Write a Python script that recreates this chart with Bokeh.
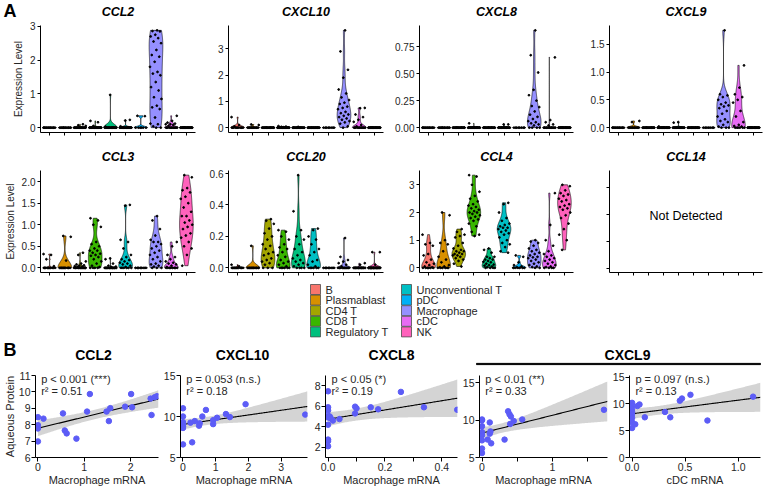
import numpy as np
from bokeh.plotting import figure
from bokeh.layouts import row, column
from bokeh.models import Range1d, FixedTicker, Label, NumeralTickFormatter
from bokeh.core.properties import value
from bokeh.embed import file_html
from bokeh.resources import INLINE

FONT = "Liberation Sans"

# ---------------- data: panel A (violins) ----------------
CELL_TYPES = ["B", "Plasmablast", "CD4 T", "CD8 T", "Regulatory T",
              "Unconventional T", "pDC", "Macrophage", "cDC", "NK"]
CELL_COLORS = ["#F8766D", "#D89000", "#A3A500", "#39B600", "#00BF7D",
               "#00BFC4", "#00B0F6", "#9590FF", "#E76BF3", "#FF62BC"]

GENES_ROW1 = ["CCL2", "CXCL10", "CXCL8", "CXCL9"]
GENES_ROW2 = ["CCL3", "CCL20", "CCL4", "CCL14"]

# non-zero expression values per cell type, and number of zero cells per type
CCL2_vals = [[], [], [0.1, 0.07, 0.05], [0.2, 0.16, 0.05], [0.97, 0.03], [0.23, 0.21, 0.04],
             [0.35, 0.34],
             [2.88, 2.86, 2.85, 2.75, 2.7, 2.65, 2.55, 2.5, 2.3, 2.15, 2.1, 1.95, 1.8, 1.65, 1.6,
              1.55, 1.35, 1.2, 1.1, 0.9, 0.85, 0.65, 0.6, 0.55, 0.3, 0.12, 0.1, 0.04],
             [0.35, 0.2, 0.15, 0.12, 0.1, 0.1, 0.08, 0.05], []]
CCL2_zeros = [14, 14, 22, 27, 22, 24, 6, 2, 12, 30]

CXCL10_vals = [[0.4, 0.1, 0.05], [0.12, 0.1], [], [0.06, 0.04, 0.03], [0.03], [], [],
               [3.7, 2.9, 2.2, 1.9, 1.45, 1.3, 1.15, 1.05, 0.95, 0.9, 0.8, 0.75, 0.7, 0.6, 0.55,
                0.5, 0.45, 0.4, 0.35, 0.3, 0.25, 0.2, 0.15, 0.05],
               [0.75, 0.74, 0.5, 0.4, 0.3, 0.22, 0.1, 0.05], []]
CXCL10_zeros = [11, 12, 24, 27, 23, 26, 8, 1, 12, 30]

CXCL8_vals = [[], [], [], [0.04], [], [0.03, 0.03], [],
              [0.9, 0.67, 0.51, 0.35, 0.3, 0.25, 0.2, 0.19, 0.15, 0.12, 0.1, 0.08, 0.06, 0.05,
               0.04, 0.03, 0.02],
              [0.65, 0.07, 0.05, 0.03, 0.02], []]
CXCL8_zeros = [14, 14, 24, 29, 24, 24, 8, 4, 15, 30]

CXCL9_vals = [[], [0.1, 0.12], [], [0.02], [0.1, 0.09], [], [],
              [1.75, 0.6, 0.58, 0.55, 0.5, 0.45, 0.42, 0.4, 0.38, 0.35, 0.3, 0.25, 0.2, 0.15,
               0.12, 0.1, 0.05, 0.02],
              [1.12, 0.72, 0.6, 0.55, 0.5, 0.45, 0.3, 0.2, 0.1, 0.05, 0.03, 0.02], []]
CXCL9_zeros = [14, 12, 24, 29, 22, 26, 8, 3, 6, 30]

CCL3_vals = [[0.32, 0.3, 0.2, 0.04], [0.74, 0.72, 0.17],
             [0.35, 0.3, 0.15, 0.1, 0.08, 0.06, 0.05, 0.04, 0.03, 0.02],
             [1.15, 1.1, 1.0, 0.95, 0.6, 0.55, 0.5, 0.45, 0.4, 0.4, 0.35, 0.33, 0.3, 0.28, 0.25,
              0.2, 0.15, 0.1, 0.05, 0.02],
             [0.22, 0.2, 0.1, 0.05, 0.03, 0.02],
             [1.46, 1.44, 0.65, 0.6, 0.45, 0.3, 0.25, 0.2, 0.18, 0.15, 0.12, 0.1, 0.08, 0.05, 0.02],
             [],
             [1.2, 1.1, 0.9, 0.75, 0.65, 0.6, 0.6, 0.55, 0.5, 0.45, 0.4, 0.35, 0.3, 0.25, 0.2,
              0.15, 0.1, 0.08, 0.05, 0.03],
             [0.6, 0.5, 0.3, 0.25, 0.2, 0.15, 0.12, 0.1, 0.08, 0.05, 0.02],
             [2.15, 2.1, 1.85, 1.8, 1.75, 1.65, 1.6, 1.5, 1.4, 1.3, 1.2, 1.2, 1.1, 1.05, 1.0,
              0.95, 0.9, 0.8, 0.75, 0.7, 0.6, 0.5, 0.45, 0.3, 0.05]]
CCL3_zeros = [10, 11, 14, 4, 18, 6, 8, 3, 8, 0]

CCL20_vals = [[0.02, 0.01], [0.14],
              [0.31, 0.3, 0.28, 0.25, 0.22, 0.2, 0.18, 0.15, 0.14, 0.12, 0.1, 0.09, 0.08, 0.06,
               0.05, 0.04, 0.03, 0.02],
              [0.24, 0.23, 0.2, 0.18, 0.15, 0.13, 0.12, 0.1, 0.08, 0.07, 0.05, 0.04, 0.03, 0.02, 0.01],
              [0.59, 0.36, 0.24, 0.2, 0.18, 0.15, 0.12, 0.1, 0.08, 0.06, 0.05, 0.04, 0.03, 0.02, 0.01],
              [0.25, 0.24, 0.2, 0.18, 0.15, 0.12, 0.1, 0.08, 0.05, 0.04, 0.02, 0.01],
              [],
              [0.19, 0.07, 0.05, 0.04, 0.03, 0.02, 0.01],
              [0.03, 0.02], [0.1, 0.1, 0.02]]
CCL20_zeros = [12, 13, 3, 6, 4, 6, 8, 12, 18, 27]

CCL4_vals = [[1.2, 0.9, 0.85, 0.8, 0.5, 0.45, 0.3, 0.2, 0.15, 0.1, 0.05, 0.02],
             [2.0, 1.9, 1.0, 0.9, 0.85, 0.6, 0.4, 0.3, 0.2, 0.1, 0.05, 0.02],
             [1.4, 1.3, 1.2, 1.15, 1.1, 0.9, 0.8, 0.7, 0.65, 0.6, 0.6, 0.55, 0.5, 0.5, 0.45,
              0.45, 0.4, 0.35, 0.3, 0.25, 0.15, 0.05],
             [3.35, 3.3, 3.0, 2.75, 2.6, 2.5, 2.4, 2.3, 2.25, 2.2, 2.15, 2.1, 2.05, 2.0, 2.0,
              1.95, 1.9, 1.85, 1.8, 1.75, 1.7, 1.6, 1.5, 1.3, 1.2, 1.15],
             [0.7, 0.65, 0.55, 0.4, 0.4, 0.35, 0.3, 0.3, 0.25, 0.22, 0.2, 0.15, 0.12, 0.1, 0.08,
              0.05, 0.03],
             [2.35, 2.3, 2.0, 1.8, 1.7, 1.6, 1.55, 1.5, 1.45, 1.45, 1.4, 1.35, 1.3, 1.25, 1.2,
              1.1, 1.0, 0.9, 0.85, 0.75, 0.6, 0.55],
             [0.45, 0.4, 0.2, 0.1, 0.05, 0.02],
             [1.0, 0.95, 0.9, 0.8, 0.7, 0.65, 0.6, 0.55, 0.5, 0.45, 0.4, 0.38, 0.35, 0.3, 0.25,
              0.2, 0.15, 0.1, 0.05, 0.03],
             [2.7, 1.55, 1.0, 0.8, 0.6, 0.5, 0.45, 0.4, 0.35, 0.3, 0.25, 0.2, 0.15, 0.1, 0.05, 0.03],
             [3.0, 2.95, 2.8, 2.7, 2.65, 2.6, 2.5, 2.45, 2.4, 2.3, 2.25, 2.2, 2.15, 2.1, 2.0,
              1.9, 1.8, 1.6, 1.4, 1.2, 1.0, 0.65]]
CCL4_zeros = [6, 6, 0, 0, 4, 0, 6, 2, 4, 0]

CCL2_yticks = [0, 1, 2, 3]
CXCL10_yticks = [0, 1, 2, 3]
CXCL8_yticks = [0, 0.25, 0.5, 0.75]
CXCL9_yticks = [0, 0.5, 1.0, 1.5]
CCL3_yticks = [0, 0.5, 1.0, 1.5, 2.0]
CCL20_yticks = [0, 0.2, 0.4, 0.6]
CCL4_yticks = [0, 1, 2, 3]
CCL14_yticks = [0, 1, 2, 3]

# ---------------- data: panel B (correlations) ----------------
CCL2_mac_x = [0, 0, 0, 0, 0.12, 0.54, 0.58, 0.62, 0.83, 1.06, 1.12, 1.48, 1.53, 1.56, 1.88,
              2.01, 2.03, 2.43, 2.45, 2.52, 2.57]
CCL2_prot = [8.46, 7.97, 7.77, 6.98, 8.37, 8.69, 7.65, 7.47, 7.15, 8.80, 9.87, 8.80, 8.22, 9.01,
             9.10, 9.87, 9.06, 9.59, 8.59, 9.68, 9.74]

CXCL10_mac_x = [0, 0, 0, 0, 0, 0, 0, 0.23, 0.28, 0.36, 0.49, 0.51, 0.59, 0.70, 0.92, 0.92, 1.04,
                1.31, 1.43, 1.91, 3.73]
CXCL10_prot = [11.0, 10.0, 9.3, 9.0, 8.8, 8.6, 6.6, 9.25, 6.85, 9.44, 8.88, 9.17, 10.0, 10.8,
               9.55, 9.07, 9.85, 10.3, 9.93, 11.5, 10.23]

CXCL8_mac_x = [0, 0, 0, 0, 0, 0, 0, 0, 0, 0.006, 0.01, 0.017, 0.04, 0.095, 0.10, 0.095, 0.15,
               0.176, 0.256, 0.337, 0.454]
CXCL8_prot = [7.46, 5.9, 5.6, 5.06, 4.9, 4.2, 2.75, 2.6, 2.1, 5.0, 4.8, 4.6, 4.75, 5.96, 5.8,
              5.3, 5.9, 5.7, 7.4, 5.9, 5.66]

CXCL9_mac_x = [0, 0, 0, 0, 0, 0, 0, 0, 0.08, 0.11, 0.11, 0.12, 0.13, 0.32, 0.37, 0.39, 0.41,
               0.40, 0.45, 0.57, 1.73]
CXCL9_prot_m = [10.0, 10.1, 9.2, 8.4, 8.0, 7.3, 6.2, 5.6, 7.4, 9.7, 8.2, 8.5, 6.9, 7.4, 11.2,
                10.8, 10.5, 9.5, 9.9, 10.1, 11.4]

CXCL9_cdc_x = [0, 0, 0, 0, 0, 0, 0, 0, 0.03, 0.05, 0.07, 0.12, 0.31, 0.36, 0.45, 0.47, 0.55,
               0.71, 1.14]
CXCL9_prot_c = [10.2, 9.7, 9.1, 8.5, 8.1, 7.4, 6.6, 5.5, 6.2, 9.6, 9.9, 7.5, 8.5, 7.5, 10.6,
                11.0, 11.7, 6.9, 11.35]

B_TITLES = ["CCL2", "CXCL10", "CXCL8"]
B_GROUP_TITLE = "CXCL9"
STATS_P = ["p < 0.001 (***)", "p = 0.053 (n.s.)", "p < 0.05 (*)", "p < 0.01 (**)", "p = 0.097 (n.s.)"]
STATS_R = ["r\u00b2 = 0.51", "r\u00b2 = 0.18", "r\u00b2 = 0.19", "r\u00b2 = 0.33", "r\u00b2 = 0.13"]

# ---------------- layout constants (pixels) ----------------
W = 764
TXT = "#262626"
V_FRAMES = [(40, 195), (228, 383), (419, 573), (609, 762)]   # violin plot areas, x
S_FRAMES = [(28, 158), (177, 307), (325, 457), (476, 607), (627, 760)]  # scatter plot areas, x
FIG_R = 2


def fig_geometry(frames):
    """start, left border, width for figures laid side by side."""
    out = []
    start = 0
    for k, (a, b) in enumerate(frames):
        right = FIG_R if k < len(frames) - 1 else W - b
        out.append((start, a - start, b - a, right))
        start = b + right
    return out


V_GEOM = fig_geometry(V_FRAMES)
S_GEOM = fig_geometry(S_FRAMES)


def strip(height):
    p = figure(width=W, height=height, output_backend="svg", toolbar_location=None,
               x_range=Range1d(0, W), y_range=Range1d(height, 0), min_border=0,
               x_axis_location=None, y_axis_location=None)
    p.grid.visible = False
    p.outline_line_color = None
    return p


def style_axis(ax, size="10px"):
    ax.axis_line_color = "black"
    ax.axis_line_width = 1
    ax.major_tick_line_color = "black"
    ax.minor_tick_line_color = "black"
    ax.major_tick_in = 0
    ax.major_tick_out = 3
    ax.minor_tick_in = 0
    ax.minor_tick_out = 3
    ax.major_label_text_font = FONT
    ax.major_label_text_font_size = size
    ax.major_label_text_color = TXT
    ax.major_label_standoff = 2
    ax.major_label_text_line_height = 1.0
    ax.axis_label_text_font = FONT
    ax.axis_label_text_font_style = "normal"
    ax.axis_label_text_color = TXT
    ax.axis_label_standoff = 3
    ax.axis_label_text_line_height = 1.0


def kde_shape(v):
    v = np.asarray(v, float)
    n = len(v)
    sd = v.std(ddof=1)
    q75, q25 = np.percentile(v, [75, 25])
    lo = min(sd, (q75 - q25) / 1.34)
    if lo <= 0:
        lo = sd if sd > 0 else 1.0
    bw = 0.9 * lo * n ** -0.2
    grid = np.linspace(v.min(), v.max(), 200)
    dens = np.exp(-0.5 * ((grid[:, None] - v[None, :]) / bw) ** 2).sum(axis=1)
    return grid, dens / dens.max()


V_TOP, V_BOT = 5, 5


def violin_panel(k, vals, zeros, yticks, yfmt, ylabel, frame_h):
    start, left, fw, right = V_GEOM[k]
    groups = [list(g) + [0.0] * z for g, z in zip(vals, zeros)]
    allv = [v for g in groups for v in g]
    if allv:
        vmin, vmax = min(allv), max(allv)
        r = vmax - vmin
        yr = Range1d(vmin - 0.05 * r, vmax + 0.05 * r)
    else:
        yr = Range1d(-0.15, 3.65)
    p = figure(width=left + fw + right, height=V_TOP + frame_h + V_BOT, output_backend="svg",
               toolbar_location=None, x_range=Range1d(0.4, 10.6), y_range=yr,
               min_border_left=left, min_border_right=right, min_border_top=V_TOP,
               min_border_bottom=V_BOT)
    p.grid.visible = False
    p.outline_line_color = None
    for ax in p.axis:
        style_axis(ax)
    # category ticks without labels
    p.xaxis.ticker = FixedTicker(ticks=[], minor_ticks=list(range(1, 11)))
    p.xaxis.major_label_standoff = 0
    p.xaxis.axis_label_standoff = 0
    if yfmt is None:
        p.yaxis.ticker = FixedTicker(ticks=[], minor_ticks=yticks)
    else:
        p.yaxis.ticker = FixedTicker(ticks=yticks)
        p.yaxis.formatter = NumeralTickFormatter(format=yfmt)
    if ylabel:
        p.yaxis.axis_label = ylabel
        p.yaxis.axis_label_text_font_size = "10px"

    pxs, pys, fills = [], [], []
    fx0, fx1, fy = [], [], []
    dx, dy = [], []
    for i, g in enumerate(groups):
        if not g:
            continue
        c = i + 1
        v = np.array(g, float)
        if v.max() > v.min():
            grid, w = kde_shape(v)
            pxs.append(list(np.concatenate([c - 0.45 * w, (c + 0.45 * w)[::-1]])))
            pys.append(list(np.concatenate([grid, grid[::-1]])))
            fills.append(CELL_COLORS[i])
        else:
            fx0.append(c - 0.45)
            fx1.append(c + 0.45)
            fy.append(float(v[0]))
        jit = ((np.arange(len(v)) * 0.6180339887 + 0.37 * i) % 1.0 - 0.5) * 0.8
        dx.extend(list(c + jit))
        dy.extend(list(v))
    if pxs:
        p.patches(xs=pxs, ys=pys, fill_color=fills, line_color="black", line_width=0.6)
    if fx0:
        p.segment(x0=fx0, x1=fx1, y0=fy, y1=fy, line_color="black", line_width=0.8)
    if dx:
        p.scatter(dx, dy, size=1.8, color="black")
    return p


def title_strip(height, ycenter, titles, tag, size, style):
    p = strip(height)
    xc = [(a + b) / 2 for a, b in V_FRAMES]
    p.text(x=xc, y=[ycenter] * len(titles), text=titles, text_font=value(FONT),
           text_font_size=value(size), text_font_style=style, text_align="center",
           text_baseline="middle", text_color="black")
    if tag:
        p.text(x=[3], y=[10], text=[tag], text_font=value(FONT), text_font_size=value("18px"),
               text_font_style="bold", text_align="left", text_baseline="middle",
               text_color="black")
    return p


# row 1: strip 20 + figures (5 + 107 + 5) ; row 2: strip 28 + figures (5 + 102 + 5)
R1_STRIP, R1_FH = 20, 107
R2_STRIP, R2_FH = 28, 102
stripA = title_strip(R1_STRIP, 11, GENES_ROW1, "A", "12.5px", "bold italic")
v1 = violin_panel(0, CCL2_vals, CCL2_zeros, CCL2_yticks, "0", "Expression Level", R1_FH)
v2 = violin_panel(1, CXCL10_vals, CXCL10_zeros, CXCL10_yticks, "0", None, R1_FH)
v3 = violin_panel(2, CXCL8_vals, CXCL8_zeros, CXCL8_yticks, "0.00", None, R1_FH)
v4 = violin_panel(3, CXCL9_vals, CXCL9_zeros, CXCL9_yticks, "0.0", None, R1_FH)
stripA2 = title_strip(R2_STRIP, 19, GENES_ROW2, None, "12.5px", "bold italic")
v5 = violin_panel(0, CCL3_vals, CCL3_zeros, CCL3_yticks, "0.0", "Expression Level", R2_FH)
v6 = violin_panel(1, CCL20_vals, CCL20_zeros, CCL20_yticks, "0.0", None, R2_FH)
v7 = violin_panel(2, CCL4_vals, CCL4_zeros, CCL4_yticks, "0", None, R2_FH)
v8 = violin_panel(3, [[] for _ in CELL_TYPES], [0] * 10, CCL14_yticks, None, None, R2_FH)
v8.add_layout(Label(x=5.5, y=1.95, text="Not Detected", text_align="center",
                    text_baseline="middle", text_font=FONT, text_font_size="12.5px",
                    text_color="black"))

# ---------------- legend (drawn as its own small panel) ----------------
LEG_H = 62
LEG_X0, LEG_DX, LEG_Y0, LEG_DY = 315, 91, 12, 10.6
leg = strip(LEG_H)
idx = np.arange(len(CELL_TYPES))
lx = LEG_X0 + (idx // 5) * LEG_DX
ly = LEG_Y0 + (idx % 5) * LEG_DY
leg.scatter(x=lx, y=ly, marker="square", size=10, fill_color=CELL_COLORS,
            line_color="#4d4d4d", line_width=0.8)
leg.text(x=lx + 10, y=ly, text=CELL_TYPES, text_font=value(FONT), text_font_size=value("11px"),
         text_baseline="middle", text_align="left", text_color=TXT)


# ---------------- panel B ----------------
def t975(df):
    z = 1.959964
    g1 = (z ** 3 + z) / 4
    g2 = (5 * z ** 5 + 16 * z ** 3 + 3 * z) / 96
    g3 = (3 * z ** 7 + 19 * z ** 5 + 17 * z ** 3 - 15 * z) / 384
    return z + g1 / df + g2 / df ** 2 + g3 / df ** 3


def fit_band(x, y, x0, x1):
    x = np.asarray(x, float)
    y = np.asarray(y, float)
    n = len(x)
    b, a = np.polyfit(x, y, 1)
    grid = np.linspace(x0, x1, 120)
    yhat = a + b * grid
    s = np.sqrt(((y - (a + b * x)) ** 2).sum() / (n - 2))
    sxx = ((x - x.mean()) ** 2).sum()
    se = s * np.sqrt(1.0 / n + (grid - x.mean()) ** 2 / sxx)
    t = t975(n - 2)
    return grid, yhat, yhat - t * se, yhat + t * se


SB_STRIP = 30
S_TOP, S_FH, S_BOT = 6, 84, 29


def scatter_panel(k, x, y, xmax, ylim, xmaj, xmin, xfmt, ymaj, xlabel, ylabel, ptxt, rtxt):
    start, left, fw, right = S_GEOM[k]
    xr0 = -0.02 * xmax
    p = figure(width=left + fw + right, height=S_TOP + S_FH + S_BOT, output_backend="svg",
               toolbar_location=None, x_range=Range1d(xr0, xmax),
               y_range=Range1d(ylim[0], ylim[1]), min_border_left=left,
               min_border_right=right, min_border_top=S_TOP, min_border_bottom=S_BOT)
    p.grid.visible = False
    p.outline_line_color = None
    for ax in p.axis:
        style_axis(ax, "10.5px")
        ax.major_tick_out = 4
        ax.minor_tick_out = 4
        ax.axis_label_standoff = 0
        ax.major_label_standoff = 1
        ax.axis_label_text_font_size = "11px"
    p.xaxis.ticker = FixedTicker(ticks=xmaj, minor_ticks=xmin)
    p.xaxis.formatter = NumeralTickFormatter(format=xfmt)
    p.yaxis.ticker = FixedTicker(ticks=ymaj)
    p.xaxis.axis_label = xlabel
    if ylabel:
        p.yaxis.axis_label = ylabel
    g, yh, lo, hi = fit_band(x, y, 0, xmax)
    p.varea(x=g, y1=lo, y2=hi, fill_color="#d4d4d4")
    p.line(g, yh, line_color="black", line_width=1.1)
    p.scatter(x, y, size=5.5, color="#5c5cf6")
    dxp = (xmax - xr0) / fw
    dyp = (ylim[1] - ylim[0]) / S_FH
    for j, t in enumerate([ptxt, rtxt]):
        p.add_layout(Label(x=xr0 + 6 * dxp, y=ylim[1] - (4 + 12 * j) * dyp, text=t,
                           text_baseline="middle", text_align="left", text_font=FONT,
                           text_font_size="11px", text_color=TXT))
    return p


stripB = strip(SB_STRIP)
bx = [(a + b) / 2 for a, b in S_FRAMES[:3]]
stripB.text(x=bx, y=[15] * 3, text=B_TITLES, text_font=value(FONT), text_font_size=value("14px"),
            text_font_style="bold", text_align="center", text_baseline="middle",
            text_color="black")
g0, g1 = S_FRAMES[3][0], S_FRAMES[4][1]
stripB.text(x=[(g0 + g1) / 2 + 9], y=[15], text=[B_GROUP_TITLE], text_font=value(FONT),
            text_font_size=value("14px"), text_font_style="bold", text_align="center",
            text_baseline="middle", text_color="black")
stripB.hbar(y=[24.5], left=[g0], right=[g1], height=1.2, color="black")
stripB.text(x=[3], y=[10], text=["B"], text_font=value(FONT), text_font_size=value("18px"),
            text_font_style="bold", text_align="left", text_baseline="middle", text_color="black")

s1 = scatter_panel(0, CCL2_mac_x, CCL2_prot, 2.6, (6, 11), [0, 1, 2], [], "0",
                   [6, 7, 8, 9, 10, 11], "Macrophage mRNA", "Aqueous Protein",
                   STATS_P[0], STATS_R[0])
s2 = scatter_panel(1, CXCL10_mac_x, CXCL10_prot, 3.8, (5, 15), [0, 1, 2, 3], [], "0",
                   [5, 10, 15], "Macrophage mRNA", None, STATS_P[1], STATS_R[1])
s3 = scatter_panel(2, CXCL8_mac_x, CXCL8_prot, 0.455, (1, 9), [0, 0.2, 0.4], [0.1, 0.3], "0.0",
                   [2, 4, 6, 8], "Macrophage mRNA", None, STATS_P[2], STATS_R[2])
s4 = scatter_panel(3, CXCL9_mac_x, CXCL9_prot_m, 1.78, (5, 16), [0, 1], [0.5, 1.5], "0",
                   [5, 10, 15], "Macrophage mRNA", None, STATS_P[3], STATS_R[3])
s5 = scatter_panel(4, CXCL9_cdc_x, CXCL9_prot_c, 1.21, (0, 15.3), [0, 0.5, 1.0], [], "0.0",
                   [0, 5, 10, 15], "cDC mRNA", None, STATS_P[4], STATS_R[4])

layout = column(
    stripA,
    row(v1, v2, v3, v4),
    stripA2,
    row(v5, v6, v7, v8),
    leg,
    stripB,
    row(s1, s2, s3, s4, s5),
)

open("out.html", "w").write(file_html(layout, INLINE))
